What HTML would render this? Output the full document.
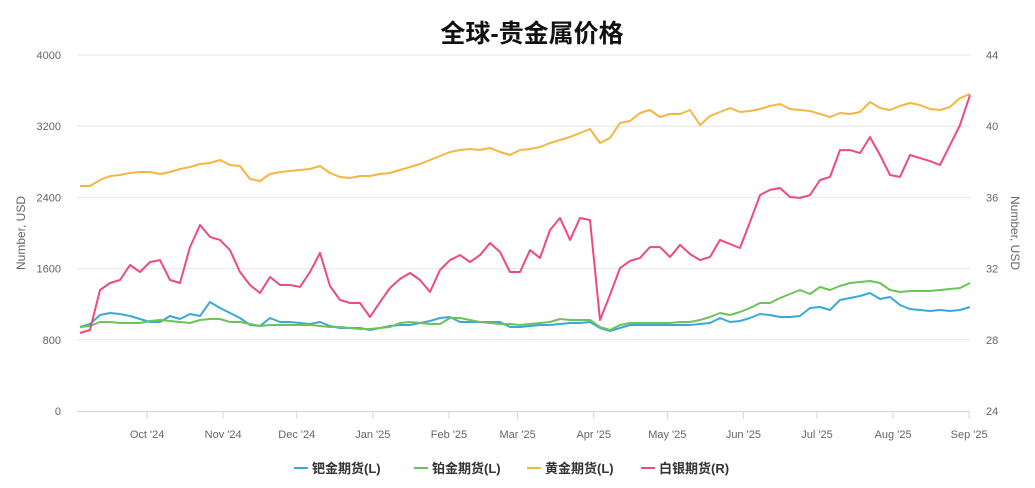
<!DOCTYPE html>
<html><head><meta charset="utf-8"><style>
body{margin:0;background:#fff;font-family:"Liberation Sans","Noto Sans CJK SC",sans-serif}
</style></head><body>
<svg id="c" width="1035" height="488" xmlns="http://www.w3.org/2000/svg" style="display:block">
<text x="532" y="42" text-anchor="middle" font-size="25" font-weight="bold" fill="#111" font-family="Liberation Sans, Noto Sans CJK SC, sans-serif">全球-贵金属价格</text>
<text transform="translate(25,233) rotate(-90)" text-anchor="middle" font-size="12" fill="#666">Number, USD</text>
<text transform="translate(1011,233) rotate(90)" text-anchor="middle" font-size="12" fill="#666">Number, USD</text>
<g id="grid"></g><g id="series"></g><g id="legend"></g>
</svg>
<script>
const leftTicks=[0,800,1600,2400,3200,4000];
const rightTicks=[24,28,32,36,40,44];
const monthLabels=["Oct '24","Nov '24","Dec '24","Jan '25","Feb '25","Mar '25","Apr '25","May '25","Jun '25","Jul '25","Aug '25","Sep '25"];
const monthDays=[31,62,92,123,154,182,213,243,274,304,335,366];
const palladium=[944,978,1079,1101,1090,1067,1034,1000,1000,1067,1034,1090,1067,1225,1157,1101,1045,966,955,1045,1000,1000,989,978,1000,955,933,933,933,910,933,955,966,966,989,1011,1045,1056,1000,1000,1000,1000,1000,944,944,955,966,966,978,989,989,1000,933,899,933,966,966,966,966,966,966,966,978,989,1045,1000,1011,1045,1090,1079,1056,1056,1067,1157,1169,1135,1247,1270,1292,1326,1258,1281,1191,1146,1135,1124,1135,1124,1135,1169];
const platinum=[944,955,1000,1000,989,989,989,1011,1022,1011,1000,989,1022,1034,1034,1000,1000,978,955,966,966,966,966,966,955,944,944,933,921,921,933,944,989,1000,989,978,978,1045,1045,1022,1000,989,978,978,966,978,989,1000,1034,1022,1022,1022,944,910,966,989,989,989,989,989,1000,1000,1022,1056,1101,1079,1112,1157,1213,1213,1270,1315,1360,1315,1393,1360,1404,1438,1449,1461,1438,1360,1337,1348,1348,1348,1360,1371,1382,1438];
const gold=[2528,2528,2596,2640,2652,2674,2685,2685,2663,2685,2719,2742,2775,2787,2820,2764,2753,2607,2584,2663,2685,2697,2708,2719,2753,2674,2629,2618,2640,2640,2663,2674,2708,2742,2775,2820,2865,2910,2933,2944,2933,2955,2910,2876,2933,2944,2966,3011,3045,3079,3124,3169,3011,3067,3236,3258,3348,3382,3303,3337,3337,3382,3213,3315,3360,3404,3360,3371,3393,3427,3449,3393,3382,3371,3337,3303,3348,3337,3360,3472,3404,3382,3427,3461,3438,3393,3382,3416,3517,3562];
const silver=[28.38,28.55,30.80,31.19,31.36,32.20,31.81,32.37,32.48,31.36,31.19,33.21,34.45,33.78,33.61,33.04,31.81,31.08,30.63,31.53,31.08,31.08,30.97,31.81,32.88,31.02,30.24,30.07,30.07,29.28,30.12,30.91,31.42,31.75,31.36,30.69,31.92,32.48,32.76,32.37,32.76,33.44,32.93,31.81,31.81,33.04,32.60,34.17,34.84,33.61,34.84,34.73,29.11,30.52,32.03,32.43,32.60,33.21,33.21,32.65,33.33,32.82,32.48,32.65,33.61,33.38,33.16,34.62,36.13,36.42,36.53,36.02,35.97,36.13,36.98,37.15,38.66,38.66,38.49,39.39,38.38,37.26,37.15,38.38,38.21,38.04,37.82,38.94,40.07,41.75];
const NS="http://www.w3.org/2000/svg";
const X0=77,X1=970,Y0=411,Y1=55;
const yL=v=>Y0-(v/4000)*(Y0-Y1);
const yR=v=>Y0-((v-24)/20)*(Y0-Y1);
const xIdx=i=>80+i*(890/89);
const xDay=d=>71+d*2.454;
function mk(tag,attrs,parent,txt){const e=document.createElementNS(NS,tag);for(const k in attrs)e.setAttribute(k,attrs[k]);if(txt!==undefined)e.textContent=txt;parent.appendChild(e);return e;}
const grid=document.getElementById('grid');
leftTicks.forEach((t,i)=>{
  const y=yL(t);
  if(t>0){const g=mk('line',{x1:X0,x2:X1,y1:y,y2:y,stroke:'#e6e6e6','stroke-width':1},grid);
  
  }
  const l=mk('text',{x:61,y:y+4,'text-anchor':'end','font-size':11,fill:'#666'},grid,String(t));
  
  
});
rightTicks.forEach(t=>{
  const r=mk('text',{x:986,y:yR(t)+4,'text-anchor':'start','font-size':11,fill:'#666'},grid,String(t));
  
  
});
const ax=mk('line',{x1:X0,x2:X1,y1:Y0+0.5,y2:Y0+0.5,stroke:'#ccd6eb','stroke-width':1},grid);


monthDays.forEach((d,i)=>{
  const x=xDay(d);
  const tk=mk('line',{x1:x,x2:x,y1:Y0,y2:Y0+8,stroke:'#ccd6eb'},grid);
  
  
  const tl=mk('text',{x:x,y:438,'text-anchor':'middle','font-size':11,fill:'#666'},grid,monthLabels[i]);
  
  
});
const ser=document.getElementById('series');
const defs=[[palladium,'#3aa8d8',yL,'palladium-line'],[platinum,'#6cc35a',yL,'platinum-line'],[gold,'#f5b642',yL,'gold-line'],[silver,'#ee4a7f',yR,'silver-line']];
defs.forEach(([arr,col,ys,name])=>{
  const d=arr.map((v,i)=>(i?'L':'M')+xIdx(i).toFixed(1)+' '+ys(v).toFixed(1)).join(' ');
  const p=mk('path',{d:d,fill:'none',stroke:col,'stroke-width':2,'stroke-linejoin':'round'},ser);
  
  
});
const lg=document.getElementById('legend');
const items=[['钯金期货(L)','#3aa8d8',294],['铂金期货(L)','#6cc35a',414],['黄金期货(L)','#f5b642',527],['白银期货(R)','#ee4a7f',641]];
items.forEach(([t,c,x])=>{
  const g=mk('g',{},lg);
  
  
  mk('line',{x1:x,x2:x+14,y1:468,y2:468,stroke:c,'stroke-width':2},g);
  mk('text',{x:x+18,y:473,'font-size':13,'font-weight':'bold',fill:'#333'},g,t);
});
</script>
</body></html>
